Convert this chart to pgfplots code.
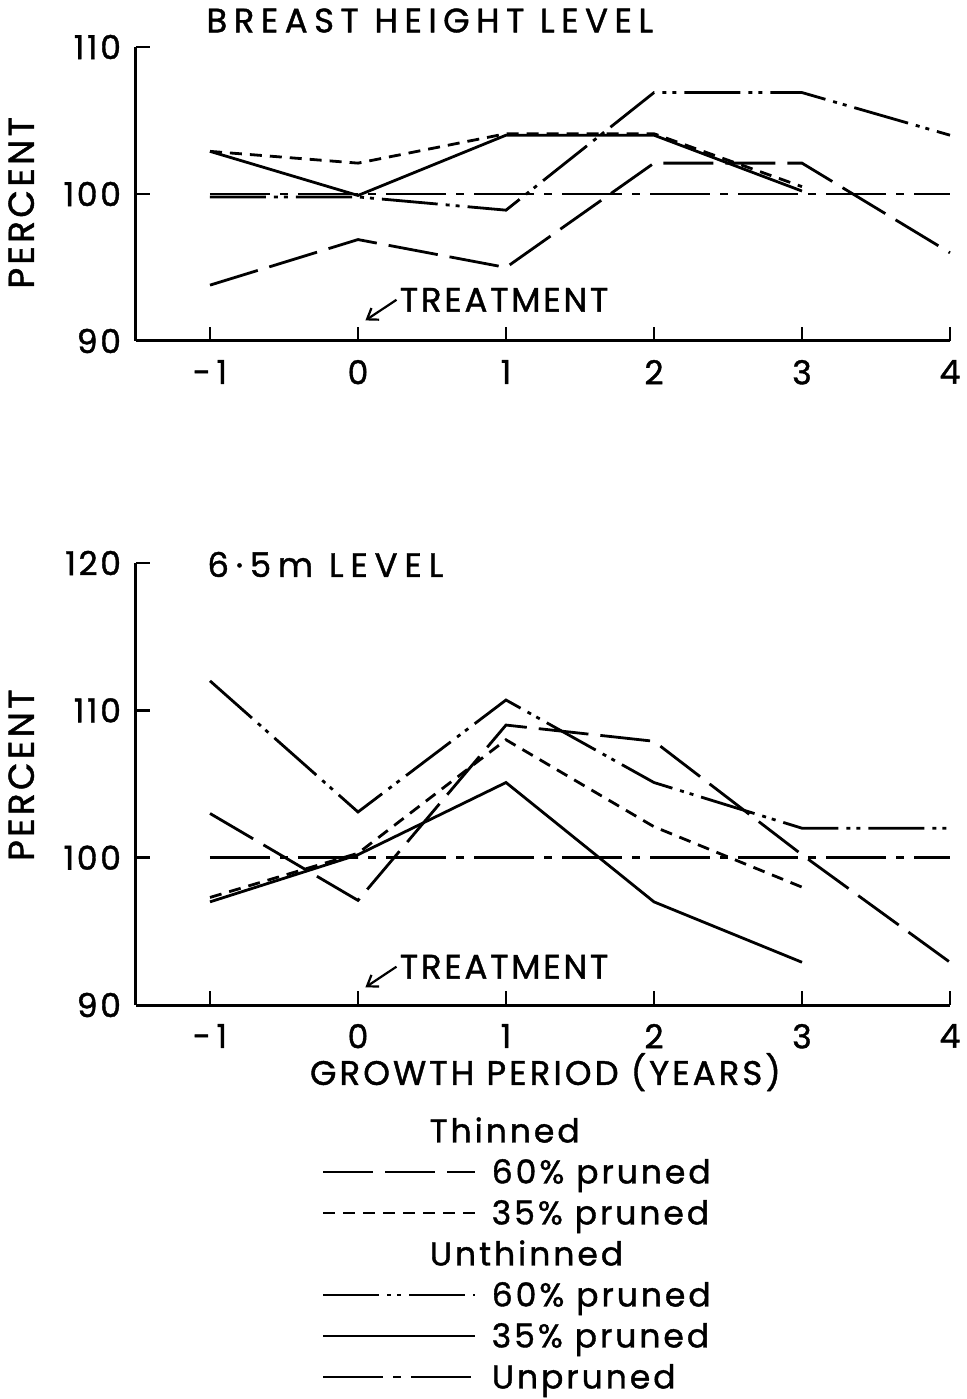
\documentclass[border=0pt]{standalone}
\usepackage{fontspec}
\setmainfont{Poppins}[FakeBold=1.2]
\usepackage{pgfplots}
\pgfplotsset{compat=1.18}
\usetikzlibrary{arrows.meta}
\newcommand{\spc}[2]{{\addfontfeature{LetterSpace=#1}#2}}
\tikzset{
  t60/.style={line width=1.4pt, dash pattern=on 25pt off 6pt},
  t35/.style={line width=1.4pt, dash pattern=on 6pt off 4pt},
  u60/.style={line width=1.4pt, dash pattern=on 28pt off 4pt on 2pt off 3pt on 2pt off 4pt},
  u35/.style={line width=1.4pt},
  up/.style={line width=1.4pt, dash pattern=on 30pt off 5pt on 4pt off 5pt},
}
\pgfplotsset{
  myaxis/.style={
    scale only axis, width=407pt,
    axis x line=bottom, axis y line=left,
    axis line style={-, line width=1.5pt},
    xmin=-1.5, xmax=4,
    xtick={-1,0,1,2,3,4}, xticklabels={-\,1,0,1,2,3,4},
    /pgf/number format/assume math mode=true,
    tick align=inside, major tick length=7pt,
    tick style={line width=1.4pt, black},
    ticklabel style={font=\fontsize{16.5}{18}\selectfont\addfontfeature{LetterSpace=8}},
    xticklabel style={yshift=-6pt},
    yticklabel style={xshift=-4pt},
    clip=false,
    every axis plot/.append style={black, no markers},
  }
}
\begin{document}
\begin{tikzpicture}
\path[use as bounding box] (0,0) rectangle (483.5pt,699.5pt);
% ---------- top panel ----------
\begin{axis}[myaxis, at={(68pt,529pt)}, anchor=south west, height=147pt,
  ymin=90, ymax=110, ytick={90,100,110}]
\addplot[t60] coordinates {(-1,93.8) (0,96.9) (1,95.0) (2,102.1) (3,102.1) (4,96.0)};
\addplot[t35] coordinates {(-1,102.9) (0,102.1) (1,104.1) (2,104.1) (3,100.5)};
\addplot[u60] coordinates {(-1,99.8) (0,99.8) (1,98.9) (2,106.9) (3,106.9) (4,104.0)};
\addplot[u35] coordinates {(-1,102.9) (0,99.9) (1,104.0) (2,104.0) (3,100.2)};
\addplot[up] coordinates {(-1,100) (0,100) (1,100) (2,100) (3,100) (4,100)};
\node[anchor=west, inner sep=0pt, font=\fontsize{17}{19}\selectfont] at (axis cs:-1.027,111.8) {\spc{19}{BREAST HEIGHT LEVEL}};
\node[anchor=west, font=\fontsize{17}{19}\selectfont, inner sep=0pt] at (axis cs:0.28,92.8) {\spc{8}{TREATMENT}};
\draw[-{Straight Barb[length=5pt,width=7pt]}, line width=1.1pt] (axis cs:0.26,92.8) -- (axis cs:0.05,91.4);
\node[rotate=90, font=\fontsize{18}{20}\selectfont] at (axis description cs:-0.141,0.47) {\spc{9}{PERCENT}};
\end{axis}
% ---------- bottom panel ----------
\begin{axis}[myaxis, at={(68pt,197pt)}, anchor=south west, height=221pt,
  ymin=90, ymax=120, ytick={90,100,110,120},
  legend style={at={(axis description cs:0.2285,-0.259)}, anchor=north west,
    draw=none, fill=none, inner sep=0pt, outer sep=0pt, column sep=7.5pt, row sep=9.0pt,
    nodes={inner sep=0pt, text height=11.5pt, text depth=0pt},
    cells={anchor=west}, font=\fontsize{16.5}{18}\selectfont\addfontfeature{LetterSpace=9}},
  legend image code/.code={\draw[#1] (0pt,0pt) -- (76pt,0pt);},
]
\addlegendimage{empty legend}\addlegendentry{\hspace*{-31pt}Thinned}
\addplot[t60] coordinates {(-1,103) (0,97.1) (1,109.0) (2,107.9) (3,100.2) (4,92.9)};
\addlegendentry{60\% pruned}
\addplot[t35] coordinates {(-1,97.3) (0,100.3) (1,108.0) (2,102.1) (3,98.0)};
\addlegendentry{35\% pruned}
\addlegendimage{empty legend}\addlegendentry{\hspace*{-31pt}Unthinned}
\addplot[u60] coordinates {(-1,112.0) (0,103.1) (1,110.7) (2,105.1) (3,102.0) (4,102.0)};
\addlegendentry{60\% pruned}
\addplot[u35] coordinates {(-1,97.0) (0,100.2) (1,105.1) (2,97.0) (3,92.9)};
\addlegendentry{35\% pruned}
\addplot[up] coordinates {(-1,100) (0,100) (1,100) (2,100) (3,100) (4,100)};
\addlegendentry{Unpruned}
\node[anchor=west, inner sep=0pt, font=\fontsize{17}{19}\selectfont] at (axis cs:-1.02,119.9) {\spc{20}{6·5m LEVEL}};
\node[anchor=west, font=\fontsize{17}{19}\selectfont, inner sep=0pt] at (axis cs:0.28,92.6) {\spc{8}{TREATMENT}};
\draw[-{Straight Barb[length=5pt,width=7pt]}, line width=1.1pt] (axis cs:0.26,92.6) -- (axis cs:0.05,91.2);
\node[rotate=90, font=\fontsize{18}{20}\selectfont] at (axis description cs:-0.141,0.52) {\spc{9}{PERCENT}};
\node[font=\fontsize{17}{19}\selectfont] at (axis description cs:0.503,-0.152) {\spc{9}{GROWTH PERIOD (YEARS)}};
\end{axis}
\end{tikzpicture}
\end{document}
